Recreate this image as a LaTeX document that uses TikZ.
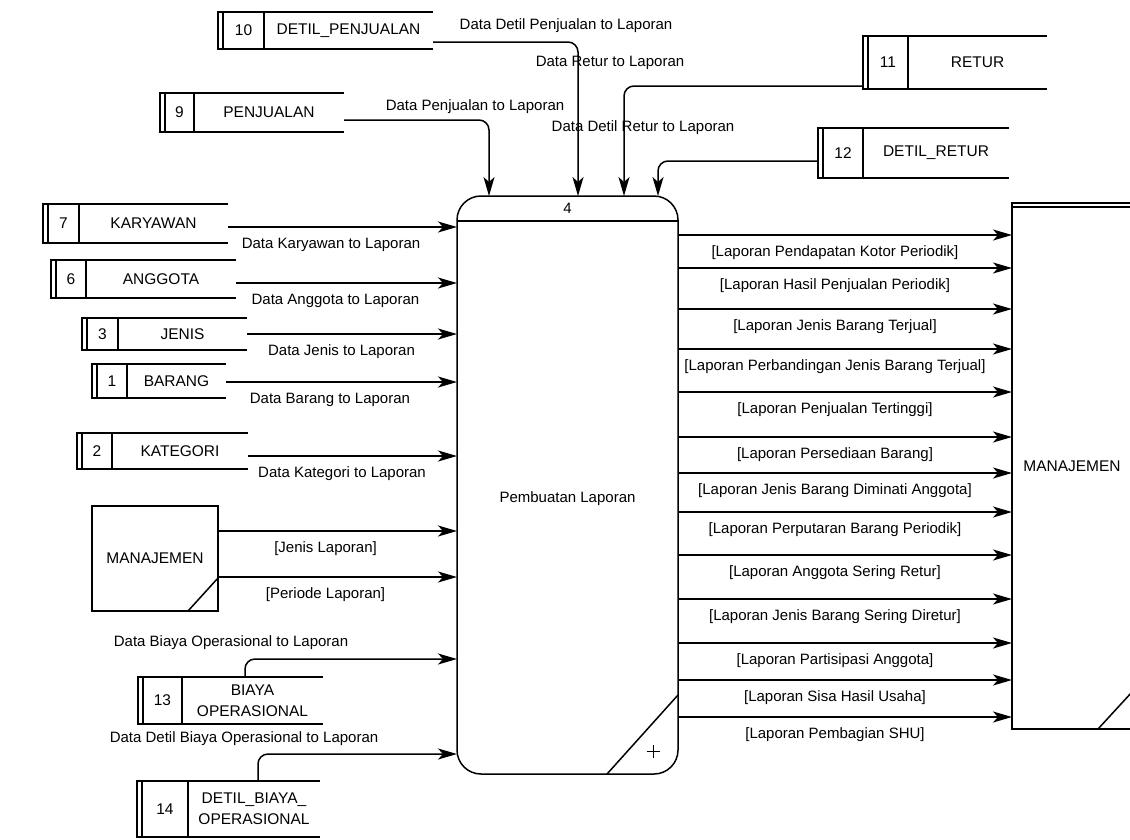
\documentclass[tikz,border=0pt]{standalone}
\usepackage{fontspec}
\setmainfont{Liberation Sans}
\usepackage{tikz}
\usetikzlibrary{arrows.meta,positioning,calc}

\tikzset{
  flow/.style={->, line width=1.5pt},
  lbl/.style={font=\fontsize{15}{18}\selectfont, inner sep=1pt},
  storebox/.style={inner sep=0pt, outer sep=0pt},
  storeline/.style={line width=1.5pt},
  storetxt/.style={font=\fontsize{15.5}{21}\selectfont, align=center, inner sep=0pt},
  entity/.style={draw, line width=1.5pt, inner sep=0pt, outer sep=0pt, font=\fontsize{15.5}{18}\selectfont},
  process/.style={draw, line width=1.5pt, rounded corners=24pt, inner sep=0pt, outer sep=0pt},
}

% data store: name, id, label, x left, y top, x divider, x right, y bottom
\newcommand{\datastore}[8]{%
  \node[storebox, minimum width={(#7-#4)*1pt}, minimum height={(#8-#5)*1pt}] (#1) at ({(#4+#7)/2},{(#5+#8)/2}) {};
  \draw[storeline] (#1.north east) -- (#1.north west) -- (#1.south west) -- (#1.south east)
    ([xshift=5pt]#1.north west) -- ([xshift=5pt]#1.south west)
    (#6,#5) -- (#6,#8);
  \node[storetxt] (#1id) at ({(#4+5+#6)/2},{(#5+#8)/2}) {#2};
  \node[storetxt] (#1txt) at ({(#6+#7)/2},{(#5+#8)/2}) {#3};
}

\begin{document}
\begin{tikzpicture}[x=1pt, y=-1pt, >={Stealth[length=19pt 0 0,width=11pt 0 0,inset=5pt 0 0]}]
    \useasboundingbox (0,0) rectangle (1130,839);
    \clip (0,0) rectangle (1130,839);

    % Process
    \node[process, minimum width=221pt, minimum height=578pt] (proc) at (567.5,485) {};
    \draw[line width=1.5pt] ([yshift=-25pt]proc.north west) -- ([yshift=-25pt]proc.north east);
    \node[lbl] (procid) at ([yshift=-12pt]proc.north) {4};
    \node[lbl] (proctitle) at ([yshift=-14pt]proc.center) {Pembuatan Laporan};
    \draw[line width=1.5pt] ([xshift=-71pt]proc.south east) -- ([yshift=79pt]proc.south east);
    \coordinate (procplus) at ([xshift=-25pt,yshift=23pt]proc.south east);
    \draw[line width=0.8pt] ([xshift=-6.5pt]procplus) -- ([xshift=6.5pt]procplus)
        ([yshift=-6.5pt]procplus) -- ([yshift=6.5pt]procplus);

    % External entities
    \node[entity, minimum width=126pt, minimum height=105pt] (mgrL) at (155,558.5) {MANAJEMEN};
    \draw[line width=1.5pt] ([xshift=-30pt]mgrL.south east) -- ([yshift=33pt]mgrL.south east);
    \node[entity, minimum width=120pt, minimum height=526pt] (mgrR) at (1072,466) {MANAJEMEN};
    \draw[line width=1.5pt] ([xshift=-34pt]mgrR.south east) -- ([yshift=37pt]mgrR.south east);
    \draw[line width=1.5pt] ([yshift=-4pt]mgrR.north west) -- ([yshift=-4pt]mgrR.north east);

    % Data stores
    \datastore{s10}{10}{DETIL\_PENJUALAN}{218}{12}{264}{433}{49}
    \datastore{s9}{9}{PENJUALAN}{160}{93}{194}{344}{132}
    \datastore{s11}{11}{RETUR}{863}{36}{908}{1047}{89}
    \datastore{s12}{12}{DETIL\_RETUR}{818}{128}{863}{1009}{178}
    \datastore{s7}{7}{KARYAWAN}{43}{204}{79}{228}{243}
    \datastore{s6}{6}{ANGGOTA}{51}{260}{86}{236}{298}
    \datastore{s3}{3}{JENIS}{82}{318}{118}{247}{350}
    \datastore{s1}{1}{BARANG}{92}{364}{127}{226}{398}
    \datastore{s2}{2}{KATEGORI}{77}{433}{112}{248}{469}
    \datastore{s13}{13}{BIAYA\\OPERASIONAL}{138}{677}{182}{323}{724}
    \datastore{s14}{14}{DETIL\_BIAYA\_\\OPERASIONAL}{137}{781}{188}{320}{837}

    % Flows from the top
    \coordinate (s9-out) at ([yshift=-7.5pt]s9.east);
    \coordinate (s10-out) at ([yshift=-11.5pt]s10.east);
    \coordinate (s11-out) at ([yshift=-23.5pt]s11.west);
    \coordinate (s12-out) at ([yshift=-8pt]s12.west);
    \draw[flow, rounded corners=10pt] (s9-out) -| ([xshift=32pt]proc.north west);
    \draw[flow, rounded corners=10pt] (s10-out) -| ([xshift=121pt]proc.north west);
    \draw[flow, rounded corners=10pt] (s11-out) -| ([xshift=167pt]proc.north west);
    \draw[flow, rounded corners=10pt] (s12-out) -| ([xshift=201pt]proc.north west);
    \node[lbl] (l10) at (566,26) {Data Detil Penjualan to Laporan};
    \node[lbl] (l11) at (610,63) {Data Retur to Laporan};
    \node[lbl] (l9) at (475,107) {Data Penjualan to Laporan};
    \node[lbl] (l12) at (643,128) {Data Detil Retur to Laporan};

    % Flows from the left
    \foreach \s/\dy/\txt in {s7/-3.5/Data Karyawan to Laporan, s6/-4/Data Anggota to Laporan,
        s3/0/Data Jenis to Laporan, s1/-1/Data Barang to Laporan, s2/-5/Data Kategori to Laporan}{
      \coordinate (\s-out) at ([yshift=\dy pt]\s.east);
      \draw[flow] (\s-out) -- (\s-out -| proc.west) node[lbl, pos=0.45, below=9pt] (\s-lbl) {\txt};
    }
    \coordinate (m1) at ([yshift=-25pt]mgrL.north east);
    \coordinate (m2) at ([yshift=-71pt]mgrL.north east);
    \draw[flow] (m1) -- (m1 -| proc.west) node[lbl, pos=0.45, below=9pt] (ml1) {[Jenis Laporan]};
    \draw[flow] (m2) -- (m2 -| proc.west) node[lbl, pos=0.45, below=9pt] (ml2) {[Periode Laporan]};

    % Flows from the bottom left
    \coordinate (s13-out) at ([xshift=107pt]s13.north west);
    \coordinate (s14-out) at ([xshift=121pt]s14.north west);
    \draw[flow, rounded corners=10pt] (s13-out) |- (proc.west |- 0,659);
    \draw[flow, rounded corners=10pt] (s14-out) |- (proc.west |- 0,754);
    \node[lbl] (l13) at (231,643) {Data Biaya Operasional to Laporan};
    \node[lbl] (l14) at (244,739) {Data Detil Biaya Operasional to Laporan};

    % Reports to management
    \foreach \y/\txt [count=\i] in {235/{[Laporan Pendapatan Kotor Periodik]},
        268/{[Laporan Hasil Penjualan Periodik]}, 309/{[Laporan Jenis Barang Terjual]},
        349/{[Laporan Perbandingan Jenis Barang Terjual]}, 392/{[Laporan Penjualan Tertinggi]},
        437/{[Laporan Persediaan Barang]}, 473/{[Laporan Jenis Barang Diminati Anggota]},
        512/{[Laporan Perputaran Barang Periodik]}, 555/{[Laporan Anggota Sering Retur]},
        599/{[Laporan Jenis Barang Sering Diretur]}, 643/{[Laporan Partisipasi Anggota]},
        680/{[Laporan Sisa Hasil Usaha]}, 717/{[Laporan Pembagian SHU]}}{
      \draw[flow] (proc.east |- 0,\y) -- (mgrR.west |- 0,\y) node[lbl, pos=0.47, below=9pt] (r\i) {\txt};
    }
\end{tikzpicture}
\end{document}
